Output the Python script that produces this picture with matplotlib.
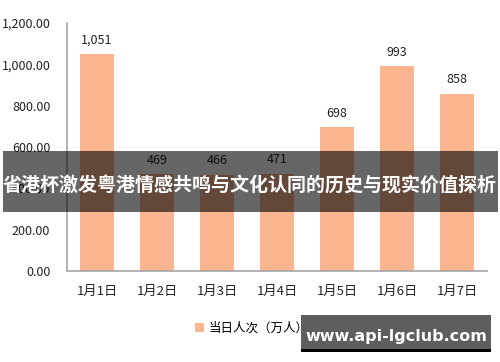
import matplotlib.pyplot as plt
from matplotlib.patches import Rectangle

plt.rcParams["font.family"] = ["Noto Sans CJK SC", "DejaVu Sans"]

days = ["1月1日", "1月2日", "1月3日", "1月4日", "1月5日", "1月6日", "1月7日"]
visitors = [1051, 469, 466, 471, 698, 993, 858]
y_ticks = [0, 200, 400, 600, 800, 1000, 1200]

BAR_COLOR = "#F9B590"
W, H = 500, 362


def px_xy(x0, y1):
    # pixel corner (top-left origin) -> figure fraction lower-left
    return (x0 / W, 1 - y1 / H)


fig = plt.figure(figsize=(5, 3.62), dpi=100)
fig.patch.set_facecolor("white")
ax = fig.add_axes([67 / W, 1 - 271 / H, 420 / W, 248 / H])

x = range(len(days))
bars = ax.bar(x, visitors, width=0.57, color=BAR_COLOR, label="当日人次（万人）")
for bar, v in zip(bars, visitors):
    ax.text(bar.get_x() + bar.get_width() / 2, v + 35, f"{v:,}",
            ha="center", va="bottom", fontsize=9, color="#222222")

ax.set_xlim(-0.5, len(days) - 0.5)
ax.set_ylim(0, 1200)
ax.set_yticks(y_ticks)
ax.set_yticklabels([f"{t:,.2f}" for t in y_ticks], fontsize=9, color="#222222")
ax.set_xticks(list(x))
ax.set_xticklabels(days, fontsize=9.5, color="#222222")
ax.tick_params(length=0, pad=12)
ax.tick_params(axis="x", pad=10)
for s in ["top", "right"]:
    ax.spines[s].set_visible(False)
for s in ["left", "bottom"]:
    ax.spines[s].set_color("#A6A6A6")
    ax.spines[s].set_linewidth(1.2)

ax.legend(loc="center", bbox_to_anchor=(0.44, -0.23), frameon=False,
          fontsize=9, handlelength=0.7, handleheight=0.7, handletextpad=0.4)

# faint source mark behind the watermark box
fig.text(410 / W, 1 - 325 / H, "✓ 王锦看传媒", fontsize=8, color="#BBBBBB",
         ha="center", va="center")

# title banner
fig.patches.append(Rectangle(px_xy(3, 212), 495 / W, 61 / H,
                             transform=fig.transFigure, facecolor="black",
                             alpha=0.6, edgecolor="none", zorder=5))
fig.text(250 / W, 1 - 185 / H, "省港杯激发粤港情感共鸣与文化认同的历史与现实价值探析",
         fontsize=13.7, fontweight="bold", color="white", ha="center",
         va="center", zorder=6)

# watermark box
fig.patches.append(Rectangle(px_xy(301, 349), 190 / W, 34 / H,
                             transform=fig.transFigure, facecolor="#5E5E5E",
                             edgecolor="none", zorder=5))
fig.patches.append(Rectangle(px_xy(301, 352), 190 / W, 3 / H,
                             transform=fig.transFigure, facecolor="black",
                             edgecolor="none", zorder=5))
fig.text(396 / W, 1 - 336 / H, "www.api-lgclub.com", fontsize=11.5,
         fontweight="bold", color="white", ha="center", va="center",
         family=["DejaVu Sans"], zorder=6)

fig.savefig("out.png", dpi=100)
